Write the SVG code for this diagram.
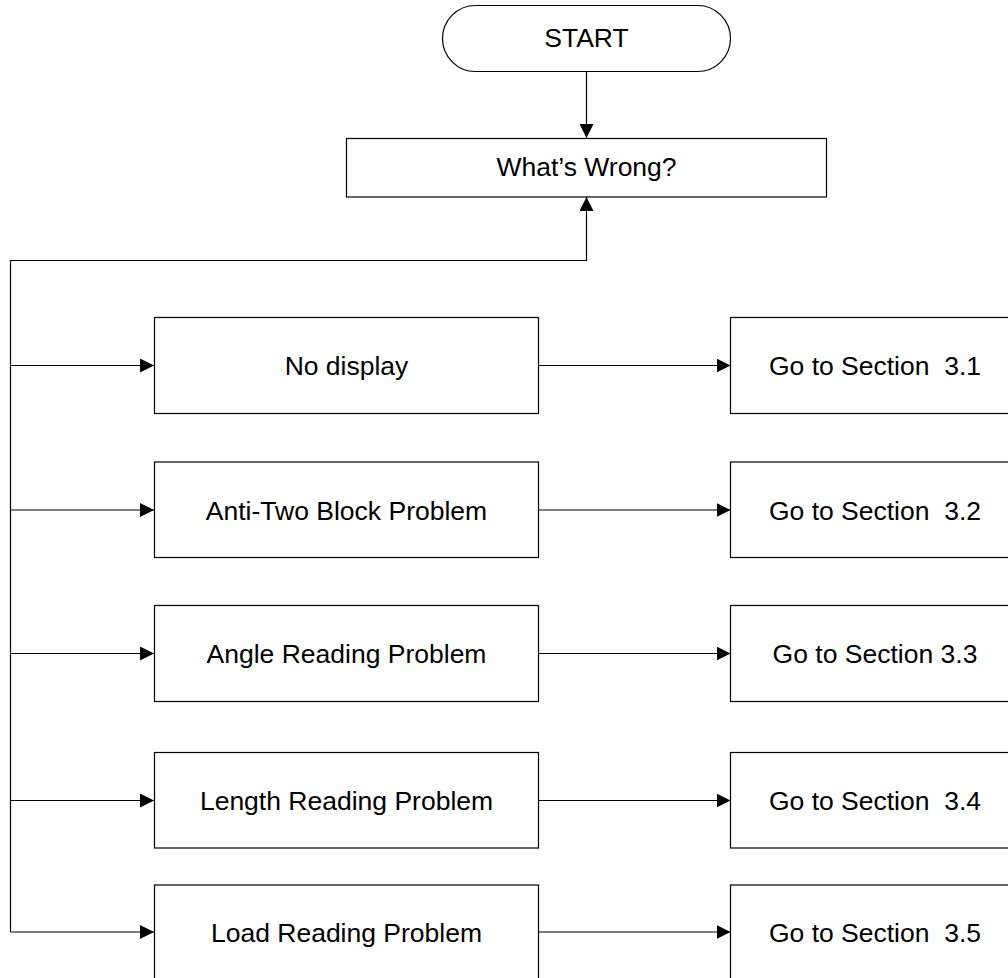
<svg xmlns="http://www.w3.org/2000/svg" width="1008" height="978" viewBox="0 0 1008 978">
<defs>
<style>
.box{fill:#fff;stroke:#000;stroke-width:1.2}
.ln{fill:none;stroke:#000;stroke-width:1.2}
.t{font-family:"Liberation Sans",Arial,sans-serif;font-size:26.5px;fill:#000;text-anchor:middle}
</style>
<marker id="ah" viewBox="0 0 14 14" markerWidth="14" markerHeight="14" refX="14" refY="7" orient="auto" markerUnits="userSpaceOnUse">
<path d="M0,0 L14,7 L0,14 Z" fill="#000"/>
</marker>
</defs>
<rect width="1008" height="978" fill="#fff"/>
<g id="connectors">
<line class="ln" x1="586.5" y1="72" x2="586.5" y2="138" marker-end="url(#ah)"/>
<polyline class="ln" points="10.5,932 10.5,260.5 586.5,260.5 586.5,197" marker-end="url(#ah)"/>
<line class="ln" x1="10.5" y1="365.5" x2="154" y2="365.5" marker-end="url(#ah)"/>
<line class="ln" x1="10.5" y1="510" x2="154" y2="510" marker-end="url(#ah)"/>
<line class="ln" x1="10.5" y1="653.5" x2="154" y2="653.5" marker-end="url(#ah)"/>
<line class="ln" x1="10.5" y1="800.5" x2="154" y2="800.5" marker-end="url(#ah)"/>
<line class="ln" x1="10.5" y1="932" x2="154" y2="932" marker-end="url(#ah)"/>
<line class="ln" x1="538.5" y1="365.5" x2="730.5" y2="365.5" marker-end="url(#ah)"/>
<line class="ln" x1="538.5" y1="510" x2="730.5" y2="510" marker-end="url(#ah)"/>
<line class="ln" x1="538.5" y1="653.5" x2="730.5" y2="653.5" marker-end="url(#ah)"/>
<line class="ln" x1="538.5" y1="800.5" x2="730.5" y2="800.5" marker-end="url(#ah)"/>
<line class="ln" x1="538.5" y1="932" x2="730.5" y2="932" marker-end="url(#ah)"/>
</g>
<g id="start">
<rect class="box" x="442.5" y="5.5" width="288" height="66" rx="33" ry="33"/>
<text class="t" x="586.5" y="47">START</text>
</g>
<g id="whats-wrong">
<rect class="box" x="346.5" y="138.5" width="480" height="58.5"/>
<text class="t" x="586.5" y="176">What’s Wrong?</text>
</g>
<g id="no-display">
<rect class="box" x="154.5" y="317.5" width="384" height="96"/>
<text class="t" x="346.5" y="375">No display</text>
</g>
<g id="anti-two-block">
<rect class="box" x="154.5" y="462" width="384" height="95.5"/>
<text class="t" x="346.5" y="519.5">Anti-Two Block Problem</text>
</g>
<g id="angle-reading">
<rect class="box" x="154.5" y="605.5" width="384" height="96"/>
<text class="t" x="346.5" y="663">Angle Reading Problem</text>
</g>
<g id="length-reading">
<rect class="box" x="154.5" y="752.5" width="384" height="95.5"/>
<text class="t" x="346.5" y="810">Length Reading Problem</text>
</g>
<g id="load-reading">
<rect class="box" x="154.5" y="885" width="384" height="100"/>
<text class="t" x="346.5" y="941.5">Load Reading Problem</text>
</g>
<g id="sec-3-1">
<rect class="box" x="730.5" y="317.5" width="290" height="96"/>
<text class="t" x="875" y="375" xml:space="preserve">Go to Section  3.1</text>
</g>
<g id="sec-3-2">
<rect class="box" x="730.5" y="462" width="290" height="95.5"/>
<text class="t" x="875" y="519.5" xml:space="preserve">Go to Section  3.2</text>
</g>
<g id="sec-3-3">
<rect class="box" x="730.5" y="605.5" width="290" height="96"/>
<text class="t" x="875" y="663">Go to Section 3.3</text>
</g>
<g id="sec-3-4">
<rect class="box" x="730.5" y="752.5" width="290" height="95.5"/>
<text class="t" x="875" y="810" xml:space="preserve">Go to Section  3.4</text>
</g>
<g id="sec-3-5">
<rect class="box" x="730.5" y="885" width="290" height="100"/>
<text class="t" x="875" y="941.5" xml:space="preserve">Go to Section  3.5</text>
</g>
</svg>
